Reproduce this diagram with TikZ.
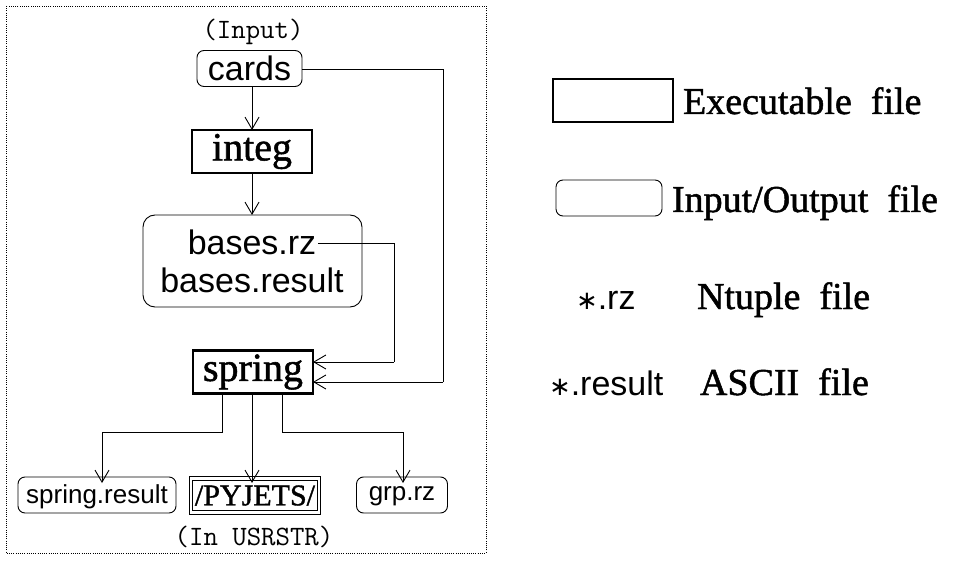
\documentclass[tikz,border=0pt]{standalone}
\usepackage{fontspec}
\setmainfont{Liberation Serif}
\setsansfont{Liberation Sans}
\newfontfamily\heavyserif{Liberation Serif}[FakeBold=1.3]
\newfontfamily\symfont{DejaVu Sans}
\usetikzlibrary{arrows.meta}
\newcommand{\astmark}{{\symfont\fontsize{26}{30}\selectfont ∗}}
\begin{document}
\begin{tikzpicture}[x=1pt,y=-1pt,
  every node/.style={inner sep=0pt,outer sep=0pt},
  exebox/.style={draw,line width=2.6pt,minimum width=120pt,minimum height=43pt},
  iobox/.style={draw,line width=0.9pt,rounded corners=7pt,minimum height=36pt},
  dblbox/.style={draw,double,double distance=2.6pt,line width=0.8pt,minimum height=34pt},
  conn/.style={line width=0.9pt},
  arr/.style={conn,-{Straight Barb[length=12pt,width=14pt,line width=0.9pt]}},
  serifbig/.style={font=\heavyserif\fontsize{40}{44}\selectfont},
  sansbig/.style={font=\sffamily\fontsize{34}{38}\selectfont},
  sanssmall/.style={font=\sffamily\fontsize{26}{30}\selectfont,text depth=2pt},
  ttlabel/.style={font=\ttfamily\fontsize{28}{32}\selectfont},
  legendtext/.style={font=\heavyserif\fontsize{38}{42}\selectfont,anchor=base west}]
\useasboundingbox (0,0) rectangle (974,561);

% dotted frame around the flow chart
\draw[line width=0.8pt,dash pattern=on 1pt off 1.2pt] (6,6) rectangle (486,553);

% flow chart nodes
\node[ttlabel] (inlab) at (253,32) {(Input)};
\node[iobox,sansbig,minimum width=105pt] (cards) at (249.5,68.5) {cards};
\node[exebox,serifbig] (integ) at (252,151.5) {integ};
\node[draw,line width=0.9pt,rounded corners=12pt,minimum width=219pt,minimum height=92pt] (bases) at (252.5,261) {};
\node[sansbig,anchor=base] (brz) at (252,255) {bases.rz};
\node[sansbig,anchor=base] (bres) at (252,292) {bases.result};
\node[exebox,serifbig] (spring) at (253,372) {spring};
\node[iobox,sanssmall,minimum width=158pt] (sres) at (97,495) {spring.result};
\node[dblbox,font=\heavyserif\fontsize{30}{34}\selectfont,minimum width=128pt] (pyj) at (255,495.5) {/PYJETS/};
\node[iobox,sanssmall,minimum width=91pt] (grp) at (402,495) {grp.rz};
\node[ttlabel] (usr) at (254,537) {(In USRSTR)};

% helper coordinates for the routed connectors
\coordinate (c1) at (443,69);
\coordinate (c2) at (443,382);
\coordinate (b1) at (394,243);
\coordinate (b2) at (394,362);
\coordinate (s1) at (222,393);
\coordinate (s2) at (252,393);
\coordinate (s3) at (282,393);

% connectors
\draw[arr] (cards.south -| integ.north) -- (integ.north);
\draw[arr] (integ.south) -- (integ.south |- bases.north);
\draw[conn] (cards.east |- c1) -- (c1) -- (c2);
\draw[arr] (c2) -- (c2 -| spring.east);
\draw[conn] ([xshift=2pt]brz.east |- b1) -- (b1) -- (b2);
\draw[arr] (b2) -- (b2 -| spring.east);
\draw[arr] (s1) -- (222,432) -- (102,432) -- ([yshift=-6pt]102,477);
\draw[arr] (s2) -- ([yshift=-6pt]252,477);
\draw[arr] (s3) -- (282,432) -- (403,432) -- ([yshift=-6pt]403,477);

% legend
\node[exebox,minimum width=120pt] (lexe) at (613,100.5) {};
\node[legendtext] (texe) at (683,114) {Executable\ \ file};
\node[iobox,minimum width=106pt] (lio) at (609,198) {};
\node[legendtext] (tio) at (672,212) {Input/Output\ \ file};
\node[font=\sffamily\fontsize{34}{38}\selectfont,anchor=base west] (lrz) at (576,309) {\astmark.rz};
\node[legendtext] (trz) at (697,309) {Ntuple\ \ file};
\node[font=\sffamily\fontsize{34}{38}\selectfont,anchor=base west] (lres) at (549,395) {\astmark.result};
\node[legendtext] (tres) at (700,395) {ASCII\ \ file};
\end{tikzpicture}
\end{document}
